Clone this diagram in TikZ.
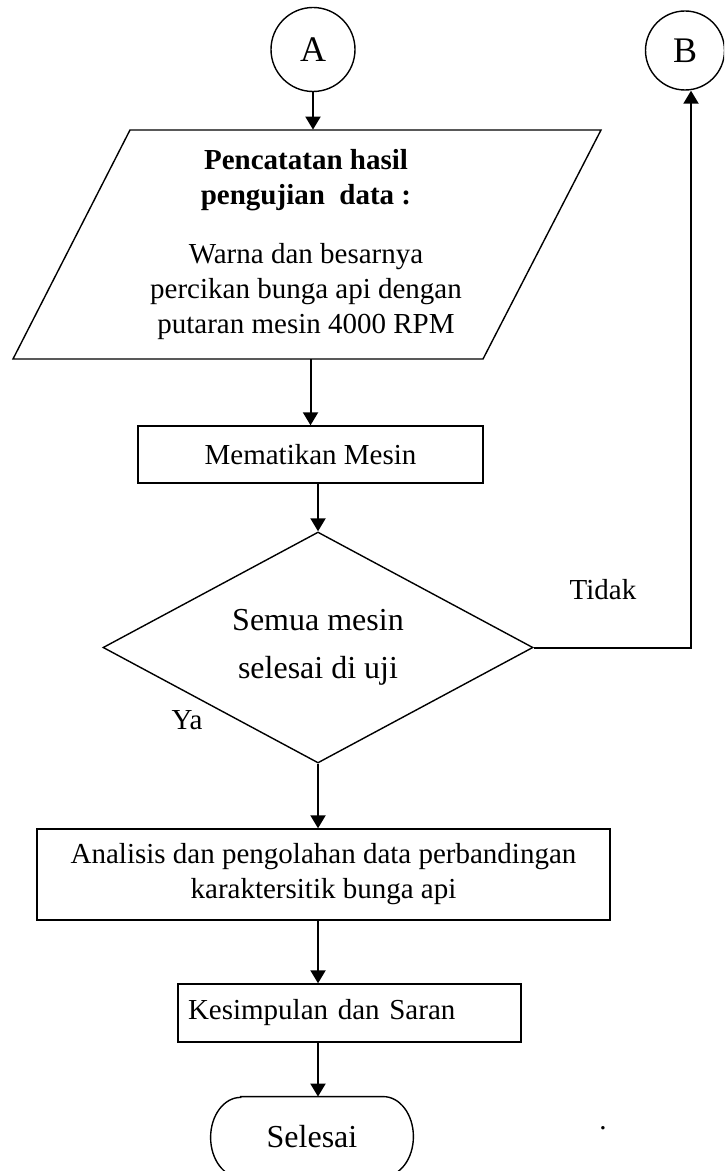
\documentclass[tikz,border=0pt]{standalone}
\usepackage{fontspec}
\setmainfont{Liberation Serif}
\usetikzlibrary{shapes.geometric,arrows.meta}

\tikzset{
  base/.style={font=\fontsize{14.5pt}{17.5pt}\selectfont, inner sep=0pt},
  outline/.style={draw, line width=0.7pt},
  stepbox/.style={base, outline, align=center},
  connector/.style={circle, outline, inner sep=0pt, font=\fontsize{18pt}{20pt}\selectfont},
  decision/.style={diamond, outline, aspect=2, inner sep=0pt, align=center,
                   font=\fontsize{16pt}{24pt}\selectfont},
  arr/.style={line width=1pt, -{Triangle[width=7.5pt,length=6.5pt]}},
}

\begin{document}
\begin{tikzpicture}[x=0.5pt, y=-0.5pt]
  \useasboundingbox (0,0) rectangle (724,1171);
  \clip (0,0) rectangle (724,1171);

  % off-page connectors
  \node[connector, minimum size=42pt] (A) at (313,49.5) {A};
  \node[connector, minimum size=39.5pt] (B) at (685,50.5) {B};

  % input / output block
  \draw[outline] (130,130) -- (601,130) -- (483,359) -- (13,359) -- cycle;
  \node[base, align=center, minimum height=114.5pt] (rec) at (306,244.5)
    {\textbf{Pencatatan hasil}\\\textbf{pengujian\ \ data :}\\[12pt]
     Warna dan besarnya\\percikan bunga api dengan\\putaran mesin 4000 RPM};

  % process steps
  \node[stepbox, minimum width=172.5pt, minimum height=28.5pt] (mati) at (310.5,454.5) {Mematikan Mesin};
  \node[decision, minimum width=215pt, minimum height=115.5pt] (dec) at (318,647.5)
    {Semua mesin\\selesai di uji};
  \node[stepbox, minimum width=286.5pt, minimum height=45.5pt] (ana) at (323.5,874.5)
    {Analisis dan pengolahan data perbandingan\\karaktersitik bunga api};
  \node[base, outline, align=left, text width=161.5pt, inner xsep=5pt, minimum height=29pt] (kes)
    at (349.5,1013) {Kesimpulan dan Saran};

  % end terminator with elliptic ends
  \node[base, font=\fontsize{16pt}{18pt}\selectfont, minimum width=101pt, minimum height=40pt]
    (end) at (312,1137) {Selesai};
  \draw[outline] ([xshift=15pt]end.north west) -- ([xshift=-15pt]end.north east)
    arc[start angle=90, end angle=-90, x radius=15pt, y radius=20pt]
    -- ([xshift=15pt]end.south west)
    arc[start angle=270, end angle=90, x radius=15pt, y radius=20pt] -- cycle;

  % branch labels
  \node[base] (tidak) at (603,590) {Tidak};
  \node[base] (ya) at (187,720) {Ya};
  \node[base] (dot) at (603,1128) {.};

  % flow lines
  \coordinate (turn) at (691,647.5);
  \draw[arr] (A.south) -- (A.south |- rec.north);
  \draw[arr] (mati.north |- rec.south) -- (mati.north);
  \draw[arr] (mati.south -| dec.north) -- (dec.north);
  \draw[arr] (dec.east) -- (turn) -- (turn |- B.south);
  \draw[arr] (dec.south) -- (dec.south |- ana.north);
  \draw[arr] (dec.south |- ana.south) -- (dec.south |- kes.north);
  \draw[arr] (dec.south |- kes.south) -- (dec.south |- end.north);
\end{tikzpicture}
\end{document}
